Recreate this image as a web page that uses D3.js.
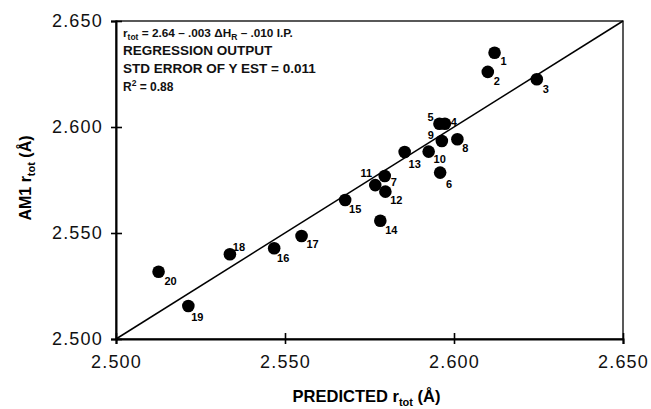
<!DOCTYPE html>
<html>
<head>
<meta charset="utf-8">
<script src="https://cdn.jsdelivr.net/npm/d3@7"></script>
<style>
  body { margin: 0; background: #fff; }
  svg { display: block; }
</style>
</head>
<body>
<div id="chart"></div>
<script>
const ids = [1, 2, 3, 4, 5, 6, 7, 8, 9, 10, 11, 12, 13, 14, 15, 16, 17, 18, 19, 20];
const predicted = [2.612, 2.610, 2.6245, 2.5973, 2.5957, 2.5959, 2.5795, 2.601, 2.5964, 2.5925,
                   2.5767, 2.5797, 2.5854, 2.5782, 2.5678, 2.5468, 2.5549, 2.5337, 2.5214, 2.5126];
const am1 = [2.635, 2.626, 2.6225, 2.6015, 2.6015, 2.5785, 2.5769, 2.5942, 2.5934, 2.5884,
             2.5726, 2.5695, 2.5882, 2.5558, 2.5656, 2.5428, 2.5486, 2.540, 2.5156, 2.5317];
const tickValues = [2.500, 2.550, 2.600, 2.650];
const notes = ['REGRESSION OUTPUT', 'STD ERROR OF Y EST = 0.011'];

const width = 651, height = 409;
const margin = {top: 21, right: 28, bottom: 70, left: 116};

const svg = d3.select('#chart').append('svg')
    .attr('width', width)
    .attr('height', height)
    .style('font-family', '"Liberation Sans", Arial, sans-serif');

const x = d3.scaleLinear().domain([2.5, 2.65]).range([margin.left, width - margin.right]);
const y = d3.scaleLinear().domain([2.5, 2.65]).range([height - margin.bottom, margin.top]);

// frame
svg.append('rect')
    .attr('x', x(2.5)).attr('y', y(2.65))
    .attr('width', x(2.65) - x(2.5)).attr('height', y(2.5) - y(2.65))
    .attr('fill', 'none').attr('stroke', '#000').attr('stroke-width', 1.3);

// axes with ticks crossing the spine
const xAxis = svg.append('g')
    .attr('transform', `translate(0,${y(2.5)})`)
    .call(d3.axisBottom(x).tickValues(tickValues).tickSize(5).tickFormat(d3.format('.3f')).tickPadding(11));
xAxis.select('.domain').attr('stroke-width', 2);
xAxis.selectAll('.tick line').attr('y1', -6).attr('stroke-width', 1.6);

const yAxis = svg.append('g')
    .attr('transform', `translate(${x(2.5)},0)`)
    .call(d3.axisLeft(y).tickValues(tickValues).tickSize(5).tickFormat(d3.format('.3f')).tickPadding(8));
yAxis.select('.domain').attr('stroke-width', 2);
yAxis.selectAll('.tick line').attr('x1', 6).attr('x2', -5).attr('stroke-width', 1.6);

svg.selectAll('.tick text')
    .attr('font-size', 18)
    .attr('letter-spacing', 1.2)
    .attr('fill', '#111')
    .style('font-family', '"Liberation Sans", Arial, sans-serif');

// regression line y = x
svg.append('line')
    .attr('x1', x(2.5)).attr('y1', y(2.5))
    .attr('x2', x(2.65)).attr('y2', y(2.65))
    .attr('stroke', '#000').attr('stroke-width', 1.5);

const points = ids.map((id, i) => ({id, px: predicted[i], py: am1[i]}));

svg.append('g').selectAll('circle')
    .data(points)
    .join('circle')
    .attr('cx', d => x(d.px))
    .attr('cy', d => y(d.py))
    .attr('r', 6.3)
    .attr('fill', '#000');

// label offsets relative to each point
const labelOffset = {
    1: [9, 8], 2: [9, 9], 3: [9, 10], 4: [9, -2], 5: [-9, -7],
    6: [9, 11], 7: [9, 6], 8: [8, 9], 9: [-11, -6], 10: [11, 7],
    11: [-9, -12], 12: [11, 8], 13: [10, 12], 14: [11, 9], 15: [10, 9],
    16: [9, 10], 17: [11, 8], 18: [9, -7], 19: [9, 11], 20: [12, 9]
};

svg.append('g').selectAll('text')
    .data(points)
    .join('text')
    .attr('x', d => x(d.px) + labelOffset[d.id][0])
    .attr('y', d => y(d.py) + labelOffset[d.id][1])
    .attr('text-anchor', 'middle')
    .attr('dominant-baseline', 'central')
    .attr('font-size', 11)
    .attr('font-weight', 'bold')
    .text(d => d.id);

// annotation block
const ann = svg.append('g')
    .attr('font-size', 13.5)
    .attr('font-weight', 'bold')
    .attr('fill', '#111');

const eq = ann.append('text').attr('x', 123).attr('y', 37).attr('font-size', 11.8);
eq.append('tspan').text('r');
eq.append('tspan').attr('font-size', 8.5).attr('dy', 3).text('tot');
eq.append('tspan').attr('dy', -3).text(' = 2.64 \u2013 .003 \u0394H');
eq.append('tspan').attr('font-size', 8.5).attr('dy', 3).text('R');
eq.append('tspan').attr('dy', -3).text(' \u2013 .010 I.P.');

ann.selectAll('.note')
    .data(notes)
    .join('text')
    .attr('class', 'note')
    .attr('x', 123)
    .attr('y', (d, i) => 55 + i * 18)
    .text(d => d);

const r2 = ann.append('text').attr('x', 123).attr('y', 91).attr('font-size', 12);
r2.append('tspan').text('R');
r2.append('tspan').attr('font-size', 8.5).attr('dy', -5).text('2');
r2.append('tspan').attr('dy', 5).text(' = 0.88');

// axis titles
const xt = svg.append('text')
    .attr('x', (x(2.5) + x(2.65)) / 2 - 3)
    .attr('y', 402)
    .attr('text-anchor', 'middle')
    .attr('font-size', 16.5)
    .attr('font-weight', 'bold');
xt.append('tspan').text('PREDICTED r');
xt.append('tspan').attr('font-size', 11).attr('dy', 4).text('tot');
xt.append('tspan').attr('dy', -4).text(' (\u00c5)');

const yt = svg.append('text')
    .attr('transform', `translate(31,${(y(2.5) + y(2.65)) / 2 - 2}) rotate(-90)`)
    .attr('text-anchor', 'middle')
    .attr('font-size', 16)
    .attr('font-weight', 'bold');
yt.append('tspan').text('AM1 r');
yt.append('tspan').attr('font-size', 11).attr('dy', 4).text('tot');
yt.append('tspan').attr('dy', -4).text(' (\u00c5)');
</script>
</body>
</html>
